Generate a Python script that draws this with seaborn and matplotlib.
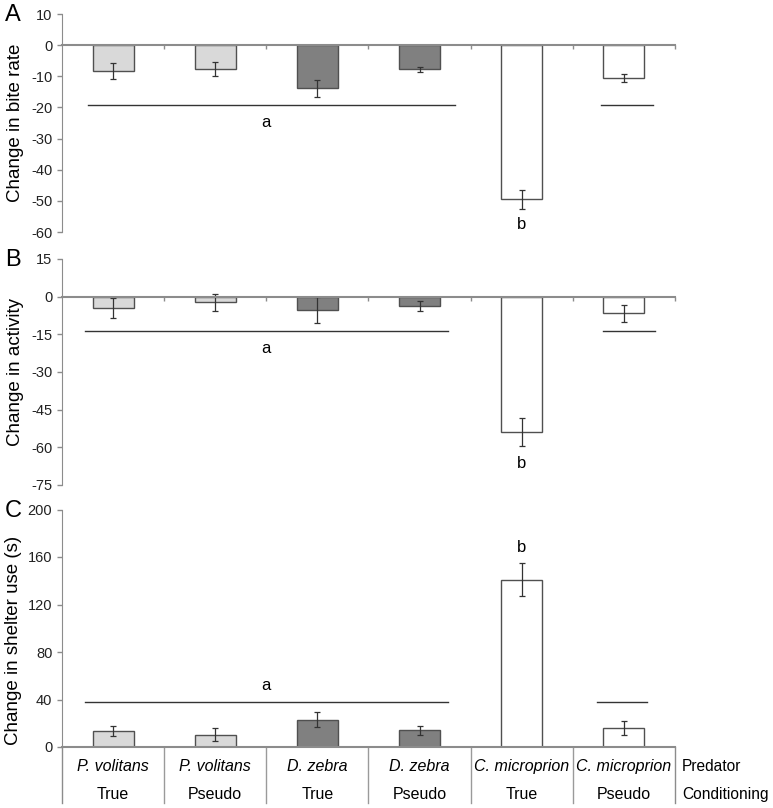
import numpy as np
import matplotlib
matplotlib.use("Agg")
import matplotlib.pyplot as plt
import seaborn as sns

# data
predators = ["P. volitans", "P. volitans", "D. zebra", "D. zebra", "C. microprion", "C. microprion"]
conditioning = ["True", "Pseudo", "True", "Pseudo", "True", "Pseudo"]
bite_rate = [-8.3, -7.7, -13.9, -7.7, -49.5, -10.6]
bite_rate_se = [2.7, 2.3, 2.6, 0.8, 3.0, 1.3]
activity = [-4.5, -2.3, -5.2, -3.8, -54.0, -6.7]
activity_se = [4.0, 3.3, 5.2, 2.0, 5.5, 3.5]
shelter = [13.5, 10.5, 23.0, 14.0, 141.0, 16.0]
shelter_se = [4.0, 5.5, 6.5, 3.5, 14.0, 5.5]
bar_colors = ["#d9d9d9", "#d9d9d9", "#808080", "#808080", "#ffffff", "#ffffff"]

keys = [f"{p}|{c}" for p, c in zip(predators, conditioning)]

plt.rcParams['font.family'] = ['Liberation Sans', 'DejaVu Sans']
plt.rcParams['axes.unicode_minus'] = False
AX_GREY = "#8c8c8c"

fig = plt.figure(figsize=(7.73, 8.08), dpi=100)
L, R = 62 / 773, 675 / 773


def panel(top_px, bot_px):
    return fig.add_axes([L, 1 - bot_px / 808, R - L, (bot_px - top_px) / 808])


def draw_bars(ax, vals, errs):
    sns.barplot(x=keys, y=vals, hue=keys, palette=bar_colors, width=0.4,
                edgecolor="#505050", linewidth=1.0, legend=False, ax=ax)
    ax.errorbar(np.arange(len(vals)), vals, yerr=errs, fmt="none",
                ecolor="#333333", elinewidth=0.9, capsize=2.5, capthick=0.9)
    ax.set_xlim(-0.5, 5.5)
    ax.set_xlabel("")
    for s in ["top", "right"]:
        ax.spines[s].set_visible(False)
    ax.spines["left"].set_color(AX_GREY)
    ax.spines["bottom"].set_color(AX_GREY)
    ax.spines["bottom"].set_linewidth(1.5)
    ax.tick_params(axis="y", colors=AX_GREY, labelcolor="#222222", labelsize=10.5,
                   length=3.5, width=1.0)


def sig(ax, spans, y, label_xy, label, bx, by):
    for x0, x1 in spans:
        ax.plot([x0, x1], [y, y], color="#333333", lw=1.0)
    ax.text(label_xy[0], label_xy[1], label, ha="center", va="center", fontsize=12)
    ax.text(bx, by, "b", ha="center", va="center", fontsize=12)


# Panel A
axA = panel(14, 232)
draw_bars(axA, bite_rate, bite_rate_se)
axA.set_ylim(-60, 10)
axA.set_yticks(range(-60, 11, 10))
axA.spines["bottom"].set_position(("data", 0))
axA.set_xticks(np.arange(0.5, 6, 1))
axA.set_xticklabels([])
axA.tick_params(axis="x", colors=AX_GREY, length=3, width=1.0)
axA.set_ylabel("Change in bite rate", fontsize=13.5, labelpad=5)
sig(axA, [(-0.25, 3.35), (4.78, 5.28)], -19.3, (1.5, -24.7), "a", 4, -57.5)

# Panel B
axB = panel(259, 485)
draw_bars(axB, activity, activity_se)
axB.set_ylim(-75, 15)
axB.set_yticks(range(-75, 16, 15))
axB.spines["bottom"].set_position(("data", 0))
axB.set_xticks(np.arange(0.5, 6, 1))
axB.set_xticklabels([])
axB.tick_params(axis="x", colors=AX_GREY, length=3, width=1.0)
axB.set_ylabel("Change in activity", fontsize=13.5, labelpad=5)
sig(axB, [(-0.27, 3.28), (4.8, 5.3)], -13.7, (1.5, -20.5), "a", 4, -66.3)

# Panel C
axC = panel(509.5, 747)
draw_bars(axC, shelter, shelter_se)
axC.set_ylim(0, 200)
axC.set_yticks(range(0, 201, 40))
axC.set_xticks([])
axC.set_ylabel("Change in shelter use (s)", fontsize=13.5, labelpad=5)
axC.yaxis.set_label_coords(-0.066, 0.45)
sig(axC, [(-0.27, 3.28), (4.74, 5.23)], 38, (1.5, 52), "a", 4, 168)

# table below panel C
trans = axC.get_xaxis_transform()
for xb in np.arange(-0.5, 6.0, 1):
    col = AX_GREY if xb in (-0.5, 5.5) else "#9a9a9a"
    axC.plot([xb, xb], [0, -0.236], transform=trans, color=col, lw=1.0, clip_on=False)
for i, (p, c) in enumerate(zip(predators, conditioning)):
    axC.text(i, -0.084, p, transform=trans, ha="center", va="center",
             fontsize=11.5, style="italic", clip_on=False)
    axC.text(i, -0.198, c, transform=trans, ha="center", va="center",
             fontsize=11.5, clip_on=False)
axC.text(5.57, -0.084, "Predator", transform=trans, ha="left", va="center", fontsize=11.2)
axC.text(5.57, -0.198, "Conditioning", transform=trans, ha="left", va="center", fontsize=11.2)

# panel letters
for letter, ypx in [("A", 15), ("B", 260), ("C", 511)]:
    fig.text(13 / 773, 1 - ypx / 808, letter, fontsize=17, ha="center", va="center")

fig.savefig("out.png", dpi=100)
